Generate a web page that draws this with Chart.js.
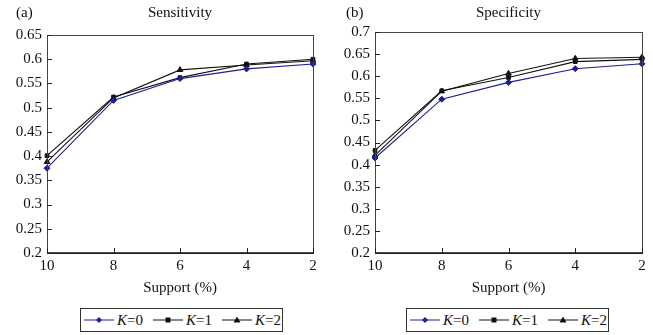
<!DOCTYPE html>
<html>
<head>
<meta charset="utf-8">
<script src="https://cdn.jsdelivr.net/npm/chart.js@4.4.1/dist/chart.umd.min.js"></script>
<style>
  body { margin: 0; background: #fff; font-family: "Liberation Serif", serif; }
  #wrap { position: relative; width: 653px; height: 335px; overflow: hidden; }
  .box { position: absolute; top: 0; height: 305px; }
  .legend {
    position: absolute; top: 308px; width: 201px; height: 22px;
    border: 1px solid #333; display: flex; align-items: center;
    font-size: 15px; color: #111; box-sizing: content-box;
  }
  .legend span.item { display: inline-flex; align-items: center; margin-right: 6px; }
  .legend svg { margin-right: 3px; }
</style>
</head>
<body>
<div id="wrap">
  <div class="box" style="left:0;width:330px"><canvas id="sens"></canvas></div>
  <div class="box" style="left:330px;width:323px"><canvas id="spec"></canvas></div>
  <div class="legend" id="legA" style="left:80px"></div>
  <div class="legend" id="legB" style="left:406px"></div>
</div>
<script>
var supportLabels = ["10", "8", "6", "4", "2"];
var seriesNames = ["K=0", "K=1", "K=2"];

// sensitivity values per K
var sensK0 = [0.375, 0.515, 0.560, 0.580, 0.590];
var sensK1 = [0.401, 0.522, 0.562, 0.590, 0.600];
var sensK2 = [0.388, 0.520, 0.578, 0.588, 0.597];

// specificity values per K
var specK0 = [0.415, 0.548, 0.586, 0.617, 0.628];
var specK1 = [0.432, 0.567, 0.597, 0.633, 0.638];
var specK2 = [0.421, 0.566, 0.606, 0.640, 0.643];

var seriesColors = ["#1e1e96", "#111111", "#111111"];
var seriesMarkers = ["rectRot", "rect", "triangle"];
var seriesRadius = [3, 2.6, 3.2];

var serif = "'Liberation Serif', 'Times New Roman', serif";

function makeDatasets(values) {
    var sets = [];
    for (var i = 0; i < values.length; i++) {
        sets.push({
            label: seriesNames[i],
            data: values[i],
            borderColor: seriesColors[i],
            backgroundColor: seriesColors[i],
            pointStyle: seriesMarkers[i],
            pointRadius: seriesRadius[i],
            pointBorderWidth: 1,
            borderWidth: 1.1,
            tension: 0
        });
    }
    return sets;
}

// frame + inward tick marks + panel letters
var framePlugin = {
    id: "frame",
    afterDraw: function (chart, args, opts) {
        var ctx = chart.ctx, a = chart.chartArea;
        ctx.save();
        ctx.strokeStyle = "#444";
        ctx.lineWidth = 1;
        ctx.strokeRect(a.left + 0.5, a.top + 0.5, a.right - a.left, a.bottom - a.top);
        ctx.strokeStyle = "#111";
        ctx.lineWidth = 1.5;
        ctx.beginPath();
        ctx.moveTo(a.left, a.bottom);
        ctx.lineTo(a.right + 1, a.bottom);
        ctx.stroke();

        ctx.lineWidth = 1;
        ctx.strokeStyle = "#222";
        var ys = chart.scales.y;
        ys.ticks.forEach(function (t) {
            var py = Math.round(ys.getPixelForValue(t.value)) + 0.5;
            ctx.beginPath();
            ctx.moveTo(a.left, py);
            ctx.lineTo(a.left + 5, py);
            ctx.stroke();
        });
        var xs = chart.scales.x;
        for (var i = 0; i < xs.ticks.length; i++) {
            var px = Math.round(xs.getPixelForTick(i)) + 0.5;
            ctx.beginPath();
            ctx.moveTo(px, a.bottom);
            ctx.lineTo(px, a.bottom - 5);
            ctx.stroke();
        }

        ctx.fillStyle = "#111";
        ctx.font = "15px " + serif;
        ctx.textBaseline = "middle";
        ctx.textAlign = "left";
        ctx.fillText(opts.letter, 16, 13);
        ctx.textAlign = "center";
        ctx.fillText(opts.title, (a.left + a.right) / 2, 13);
        ctx.restore();
    }
};

function makeChart(id, values, yMax, yAxisWidth, padTop, padRight, letter, title) {
    return new Chart(document.getElementById(id), {
        type: "line",
        data: { labels: supportLabels, datasets: makeDatasets(values) },
        plugins: [framePlugin],
        options: {
            responsive: true,
            maintainAspectRatio: false,
            animation: false,
            layout: { padding: { top: padTop, right: padRight, left: 0, bottom: 0 } },
            plugins: {
                legend: { display: false },
                tooltip: { enabled: false },
                frame: { letter: letter, title: title }
            },
            scales: {
                x: {
                    offset: false,
                    grid: { display: false, drawTicks: false },
                    border: { display: false },
                    ticks: { color: "#111", font: { family: serif, size: 15 }, padding: 4, maxRotation: 0 },
                    title: { display: true, text: "Support (%)", color: "#111",
                             font: { family: serif, size: 15 }, padding: { top: 0, bottom: 8 } },
                    afterFit: function (s) { s.height = 52; }
                },
                y: {
                    min: 0.2,
                    max: yMax,
                    grid: { display: false, drawTicks: false },
                    border: { display: false },
                    ticks: {
                        stepSize: 0.05,
                        color: "#111",
                        padding: 5,
                        font: { family: serif, size: 15 },
                        callback: function (v) { return String(Number(v.toFixed(2))); }
                    },
                    afterFit: function (s) { s.width = yAxisWidth; }
                }
            }
        }
    });
}

makeChart("sens", [sensK0, sensK1, sensK2], 0.65, 47, 35, 17, "(a)", "Sensitivity");
makeChart("spec", [specK0, specK1, specK2], 0.7, 45, 32, 11, "(b)", "Specificity");

// legend boxes (line + marker, then label)
function markerSvg(i) {
    var c = seriesColors[i];
    var m;
    if (seriesMarkers[i] === "rectRot") {
        m = '<polygon points="15,2 18,5 15,8 12,5" fill="' + c + '"/>';
    } else if (seriesMarkers[i] === "rect") {
        m = '<rect x="12.5" y="2.5" width="5" height="5" fill="' + c + '"/>';
    } else {
        m = '<polygon points="15,1.5 18.5,7.5 11.5,7.5" fill="' + c + '"/>';
    }
    return '<svg width="30" height="10"><line x1="0" y1="5" x2="30" y2="5" stroke="' + c + '" stroke-width="1"/>' + m + '</svg>';
}

function fillLegend(id) {
    var el = document.getElementById(id);
    var html = "";
    for (var i = 0; i < seriesNames.length; i++) {
        var parts = seriesNames[i].split("=");
        html += '<span class="item" style="margin-left:' + (i === 0 ? 3 : 4) + 'px">' + markerSvg(i) +
                '<span><i>' + parts[0] + '</i>=' + parts[1] + '</span></span>';
    }
    el.innerHTML = html;
}
fillLegend("legA");
fillLegend("legB");
</script>
</body>
</html>
